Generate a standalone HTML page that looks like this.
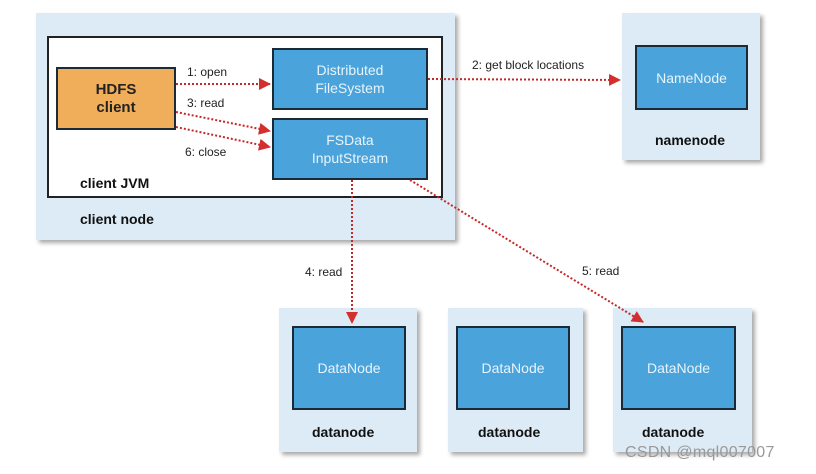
<!DOCTYPE html>
<html><head><style>
body{margin:0;width:816px;height:474px;background:#fff;position:relative;overflow:hidden;font-family:"Liberation Sans",sans-serif}
.o{position:absolute;background:#dcebf5;box-shadow:3px 3px 4px #aaa}
.b{position:absolute;background:#4aa3db;border:2px solid #1a2a36;box-sizing:border-box;color:#e8f4fb;font-size:14px;display:flex;align-items:center;justify-content:center;text-align:center;line-height:18px}
.l{position:absolute;font-weight:bold;font-size:14px;color:#111}
.t{position:absolute;font-size:12px;color:#222}
</style></head><body>
<div class="o" style="left:36px;top:13px;width:419px;height:227px"></div>
<div style="position:absolute;left:47px;top:36px;width:396px;height:162px;background:#fff;border:2px solid #222;box-sizing:border-box"></div>
<div class="b" style="left:56px;top:67px;width:120px;height:63px;background:#f0ad5a;color:#222;font-weight:bold;font-size:15px">HDFS<br>client</div>
<div class="b" style="left:272px;top:48px;width:156px;height:62px">Distributed<br>FileSystem</div>
<div class="b" style="left:272px;top:118px;width:156px;height:62px">FSData<br>InputStream</div>
<div class="l" style="left:80px;top:175px">client JVM</div>
<div class="l" style="left:80px;top:211px">client node</div>

<div class="o" style="left:622px;top:13px;width:138px;height:147px"></div>
<div class="b" style="left:635px;top:45px;width:113px;height:65px">NameNode</div>
<div class="l" style="left:655px;top:132px">namenode</div>

<div class="o" style="left:279px;top:308px;width:138px;height:144px"></div>
<div class="b" style="left:292px;top:326px;width:114px;height:84px">DataNode</div>
<div class="l" style="left:312px;top:424px">datanode</div>
<div class="o" style="left:448px;top:308px;width:135px;height:144px"></div>
<div class="b" style="left:456px;top:326px;width:114px;height:84px">DataNode</div>
<div class="l" style="left:478px;top:424px">datanode</div>
<div class="o" style="left:613px;top:308px;width:139px;height:144px"></div>
<div class="b" style="left:621px;top:326px;width:115px;height:84px">DataNode</div>
<div class="l" style="left:642px;top:424px">datanode</div>

<svg width="816" height="474" style="position:absolute;left:0;top:0">
<defs><marker id="c" markerWidth="12" markerHeight="12" refX="11" refY="6" orient="auto" markerUnits="userSpaceOnUse"><path d="M0,0L12,6L0,12z" fill="#d32f2f"/></marker></defs>
<g stroke="#c62828" stroke-width="2" stroke-dasharray="2,2" fill="none">
<line x1="176" y1="84" x2="270" y2="84" marker-end="url(#c)"/>
<line x1="176" y1="112" x2="270" y2="131" marker-end="url(#c)"/>
<line x1="176" y1="127" x2="270" y2="147" marker-end="url(#c)"/>
<line x1="428" y1="79" x2="620" y2="80" marker-end="url(#c)"/>
<line x1="352" y1="180" x2="352" y2="323" marker-end="url(#c)"/>
<line x1="410" y1="180" x2="643" y2="322" marker-end="url(#c)"/>
</g></svg>
<div class="t" style="left:187px;top:65px">1: open</div>
<div class="t" style="left:187px;top:96px">3: read</div>
<div class="t" style="left:185px;top:145px">6: close</div>
<div class="t" style="left:472px;top:58px">2: get block locations</div>
<div class="t" style="left:305px;top:265px">4: read</div>
<div class="t" style="left:582px;top:264px">5: read</div>
<div style="position:absolute;left:625px;top:444px;font-size:16px;color:#999;letter-spacing:0.3px">CSDN @mql007007</div>
</body></html>
